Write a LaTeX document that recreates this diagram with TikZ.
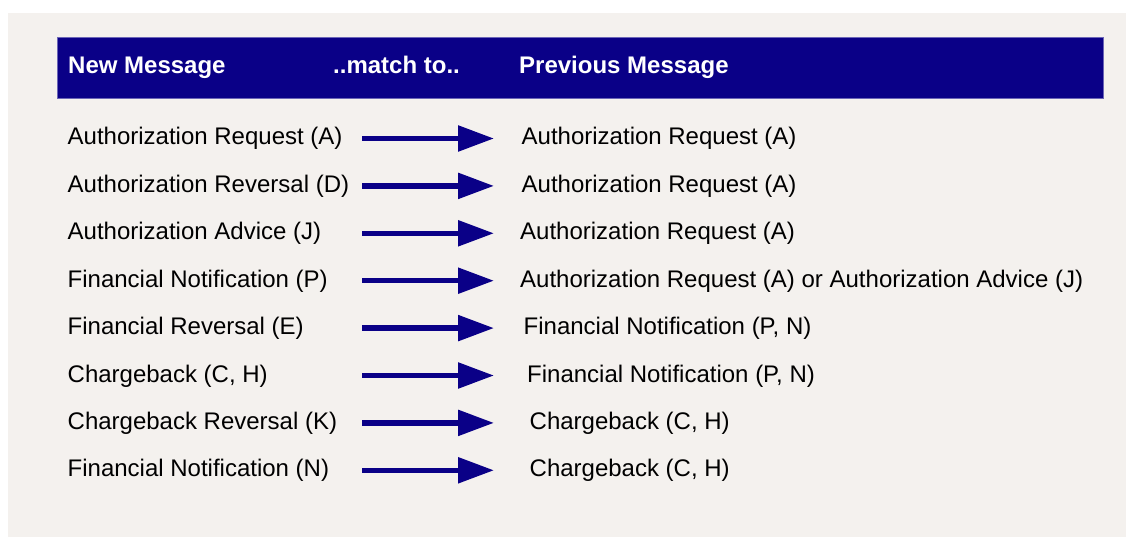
\documentclass[tikz,border=0pt]{standalone}
\usepackage{fontspec}
\setmainfont{Liberation Sans}
\usetikzlibrary{arrows.meta}
\definecolor{panelbg}{RGB}{244,241,238}
\definecolor{navy}{RGB}{10,0,135}
\tikzset{
  headtext/.style={anchor=base west, inner sep=0pt, text=white, font=\fontsize{24}{28}\selectfont\bfseries},
  rowtext/.style={anchor=base west, inner sep=0pt, text=black, font=\fontsize{24}{28}\selectfont},
  matcharrow/.style={draw=navy, line width=5.5pt, -{Triangle[length=36pt,width=25pt]}},
}
\begin{document}
\begin{tikzpicture}[x=1pt, y=-1pt]
  \useasboundingbox (0,0) rectangle (1126,537);
  \fill[white] (0,0) rectangle (1126,537);
  % slide panel
  \fill[panelbg] (8,13) rectangle (1126,537);
  % title bar
  \node[fill=navy, draw=navy!60, line width=0.6pt, anchor=north west, minimum width=1046pt, minimum height=61pt, inner sep=0pt] (bar) at (57,37) {};
  \node[headtext] (hnew) at (68,74) {New Message};
  \node[headtext] (hmatch) at (333,74) {..match to..};
  \node[headtext] (hprev) at (519,74) {Previous Message};
  % message pairs
  \foreach \i/\l/\r/\rx in {
      0/{Authorization Request (A)}/{Authorization Request (A)}/521.5,
      1/{Authorization Reversal (D)}/{Authorization Request (A)}/521.5,
      2/{Authorization Advice (J)}/{Authorization Request (A)}/520,
      3/{Financial Notification (P)}/{Authorization Request (A) or Authorization Advice (J)}/520,
      4/{Financial Reversal (E)}/{Financial Notification (P, N)}/523.5,
      5/{Chargeback (C, H)}/{Financial Notification (P, N)}/527,
      6/{Chargeback Reversal (K)}/{Chargeback (C, H)}/529.5,
      7/{Financial Notification (N)}/{Chargeback (C, H)}/529.5} {
    \pgfmathsetmacro{\yb}{145+47.4*\i}
    \pgfmathsetmacro{\ya}{\yb-6.5}
    \node[rowtext] (l\i) at (67.5,\yb) {\l};
    \node[rowtext] (r\i) at (\rx,\yb) {\r};
    \coordinate (s\i) at (362,\ya);
    \coordinate (e\i) at (494,\ya);
    \draw[matcharrow] (s\i) -- (e\i);
  }
\end{tikzpicture}
\end{document}
